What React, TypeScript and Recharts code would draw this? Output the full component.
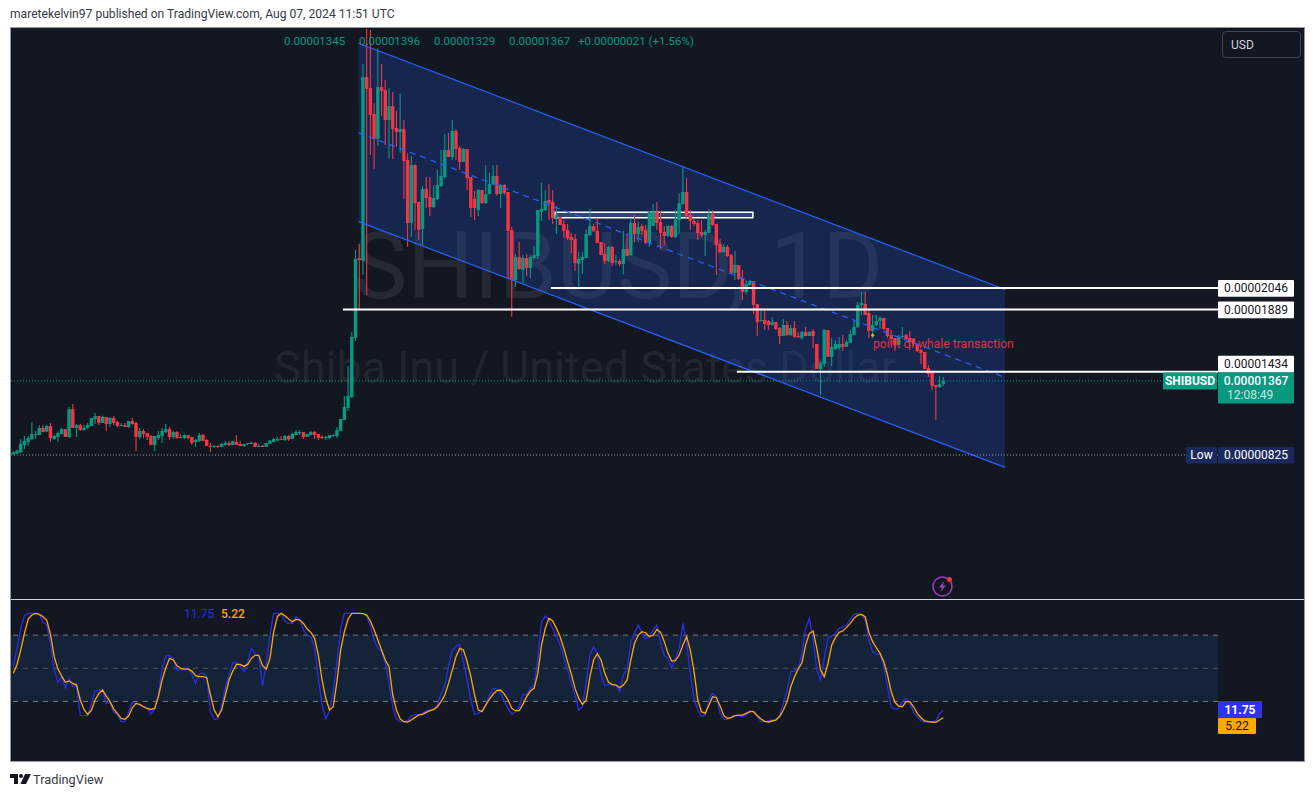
import React from 'react';
import {
  ComposedChart,
  Bar,
  Line,
  Area,
  XAxis,
  YAxis,
  ReferenceLine,
  ReferenceArea,
  ReferenceDot,
} from 'recharts';

// all prices are in units of 0.00000001 USD
const opens = [
  833, 835, 845, 898, 920, 940, 974, 971, 1023, 996,
  1037, 942, 957, 979, 1015, 957, 1161, 1023, 1044, 1008,
  1023, 1037, 1088, 1110, 1059, 1103, 1052, 1096, 1066, 1037,
  1044, 1030, 1074, 1059, 957, 1001, 986, 964, 898, 949,
  964, 993, 1015, 957, 993, 957, 949, 971, 957, 920,
  928, 971, 935, 891, 886, 891, 884, 898, 913, 898,
  920, 906, 891, 906, 908, 913, 886, 893, 884, 906,
  920, 930, 942, 935, 964, 942, 971, 988, 993, 957,
  971, 993, 979, 957, 952, 949, 964, 964, 1001, 1081,
  1169, 1249, 1681, 2265, 2245, 3588, 3508, 3318, 3135, 3515,
  3493, 3274, 3376, 3216, 3186, 3208, 2982, 2521, 2945, 2675,
  2477, 2770, 2711, 2638, 2697, 2792, 2857, 3055, 3004, 3194,
  3069, 2967, 3062, 2857, 2697, 2616, 2762, 2667, 2733, 2806,
  2865, 2733, 2799, 2748, 2470, 2104, 2273, 2178, 2265, 2192,
  2265, 2280, 2604, 2616, 2689, 2675, 2558, 2565, 2514, 2470,
  2419, 2404, 2221, 2251, 2265, 2433, 2499, 2463, 2382, 2295,
  2243, 2346, 2236, 2243, 2221, 2331, 2287, 2521, 2441, 2499,
  2470, 2375, 2499, 2602, 2528, 2455, 2426, 2499, 2419, 2543,
  2660, 2748, 2580, 2536, 2521, 2455, 2433, 2448, 2587, 2514,
  2368, 2309, 2346, 2287, 2156, 2214, 2112, 2017, 2068, 2097,
  1929, 1805, 1812, 1805, 1776, 1797, 1754, 1695, 1776, 1702,
  1754, 1695, 1680, 1724, 1695, 1732, 1637, 1454, 1490, 1739,
  1542, 1600, 1607, 1637, 1615, 1644, 1702, 1761, 1922, 1929,
  1863, 1732, 1776, 1805, 1827, 1754, 1702, 1680, 1629, 1688,
  1702, 1680, 1673, 1637, 1593, 1578, 1461, 1425, 1337, 1322,
  1345,
];

const highs = [
  852, 864, 940, 964, 964, 1066, 1001, 1042, 1044, 1044,
  1059, 971, 996, 1025, 1015, 1176, 1198, 1052, 1052, 1044,
  1059, 1096, 1132, 1110, 1113, 1103, 1103, 1110, 1074, 1059,
  1059, 1074, 1096, 1066, 1023, 1015, 986, 971, 964, 1001,
  1023, 1052, 1030, 1001, 1001, 976, 979, 971, 957, 942,
  986, 979, 942, 913, 898, 898, 913, 928, 928, 928,
  971, 928, 906, 913, 920, 920, 906, 898, 913, 935,
  949, 957, 964, 971, 971, 986, 1008, 1008, 993, 979,
  1001, 1001, 979, 971, 964, 971, 979, 1030, 1088, 1257,
  1476, 1724, 2324, 2368, 3683, 3940, 3932, 3396, 3798, 3683,
  3566, 3506, 3479, 3340, 3469, 3274, 3030, 3011, 2950, 2675,
  2792, 2857, 2857, 2799, 2909, 3055, 3172, 3179, 3274, 3208,
  3084, 3069, 3062, 2857, 2755, 2770, 2762, 2945, 2889, 2945,
  2945, 2806, 2806, 2748, 2492, 2295, 2382, 2287, 2295, 2287,
  2353, 2616, 2814, 2762, 2806, 2762, 2645, 2565, 2543, 2514,
  2446, 2441, 2309, 2309, 2470, 2624, 2514, 2558, 2382, 2375,
  2353, 2353, 2287, 2258, 2463, 2441, 2558, 2580, 2528, 2514,
  2506, 2609, 2660, 2675, 2602, 2499, 2506, 2506, 2616, 2738,
  2938, 2850, 2616, 2550, 2543, 2543, 2470, 2624, 2616, 2514,
  2404, 2368, 2360, 2295, 2317, 2214, 2178, 2104, 2104, 2097,
  1929, 1900, 1900, 1812, 1834, 1797, 1761, 1819, 1805, 1776,
  1805, 1724, 1732, 1761, 1732, 1746, 1637, 1512, 1746, 1739,
  1680, 1666, 1688, 1702, 1666, 1739, 1805, 1944, 2017, 2017,
  1885, 1849, 1849, 1841, 1827, 1754, 1739, 1680, 1702, 1761,
  1710, 1732, 1673, 1637, 1600, 1578, 1483, 1425, 1337, 1403,
  1396,
];

const lows = [
  825, 833, 840, 869, 893, 935, 942, 971, 993, 993,
  920, 935, 920, 976, 957, 949, 1023, 957, 1001, 1001,
  1015, 1037, 1052, 1044, 1059, 1001, 1030, 1044, 1030, 1037,
  1030, 1023, 1047, 854, 942, 949, 935, 898, 854, 935,
  913, 986, 935, 942, 942, 949, 942, 940, 898, 884,
  920, 925, 891, 847, 876, 876, 884, 898, 891, 898,
  898, 891, 884, 898, 906, 884, 884, 884, 884, 906,
  920, 928, 935, 928, 928, 942, 971, 971, 942, 957,
  971, 942, 935, 942, 935, 942, 957, 949, 1001, 1081,
  1147, 1242, 1659, 1885, 2141, 1995, 3018, 2916, 3084, 3303,
  3091, 2996, 2989, 3079, 3030, 2697, 2346, 2419, 2470, 2397,
  2360, 2631, 2572, 2631, 2689, 2784, 2843, 3004, 2982, 2982,
  2909, 2967, 2762, 2565, 2543, 2572, 2660, 2660, 2733, 2799,
  2719, 2631, 2726, 2112, 1836, 2053, 2178, 2083, 2134, 2117,
  2256, 2258, 2538, 2609, 2543, 2514, 2441, 2506, 2416, 2397,
  2302, 2170, 2051, 2148, 2265, 2426, 2455, 2375, 2287, 2221,
  2236, 2207, 2214, 2207, 2148, 2280, 2280, 2382, 2382, 2433,
  2368, 2346, 2499, 2470, 2331, 2360, 2419, 2412, 2412, 2441,
  2653, 2558, 2470, 2499, 2397, 2419, 2280, 2448, 2499, 2141,
  2302, 2302, 2273, 2148, 2104, 2104, 1958, 1995, 2061, 1856,
  1695, 1797, 1739, 1739, 1768, 1739, 1637, 1695, 1695, 1695,
  1680, 1680, 1666, 1695, 1695, 1607, 1454, 1264, 1468, 1542,
  1476, 1593, 1593, 1585, 1615, 1644, 1702, 1754, 1849, 1849,
  1680, 1680, 1768, 1746, 1739, 1680, 1629, 1585, 1629, 1673,
  1666, 1593, 1622, 1578, 1490, 1454, 1395, 1300, 1081, 1315,
  1329,
];

const closes = [
  845, 857, 906, 928, 949, 979, 979, 1023, 993, 1037,
  949, 964, 986, 1015, 957, 1161, 1023, 1044, 1008, 1023,
  1044, 1096, 1110, 1059, 1105, 1052, 1096, 1059, 1037, 1044,
  1030, 1074, 1052, 957, 1001, 979, 957, 898, 964, 971,
  1001, 1015, 957, 993, 949, 949, 971, 949, 913, 935,
  971, 928, 891, 886, 891, 886, 906, 913, 898, 928,
  898, 891, 906, 913, 913, 884, 891, 884, 913, 930,
  942, 942, 935, 964, 940, 979, 993, 993, 957, 979,
  993, 971, 949, 949, 957, 971, 971, 1008, 1088, 1176,
  1257, 1688, 2258, 2251, 3588, 3501, 3311, 3135, 3515, 3486,
  3274, 3376, 3208, 3186, 3208, 2974, 2521, 2945, 2667, 2470,
  2770, 2704, 2638, 2704, 2799, 2865, 3055, 3004, 3194, 3062,
  2967, 3062, 2850, 2631, 2631, 2762, 2667, 2733, 2806, 2865,
  2733, 2799, 2740, 2463, 2104, 2273, 2185, 2265, 2192, 2273,
  2287, 2616, 2624, 2682, 2665, 2558, 2580, 2506, 2463, 2409,
  2397, 2229, 2258, 2273, 2441, 2499, 2463, 2375, 2287, 2243,
  2346, 2229, 2243, 2221, 2331, 2280, 2521, 2441, 2492, 2463,
  2375, 2602, 2602, 2521, 2448, 2426, 2499, 2419, 2543, 2667,
  2748, 2572, 2536, 2514, 2448, 2433, 2455, 2587, 2507, 2360,
  2309, 2346, 2280, 2156, 2214, 2112, 2017, 2075, 2097, 1922,
  1797, 1812, 1783, 1776, 1797, 1746, 1695, 1776, 1702, 1754,
  1688, 1688, 1724, 1695, 1724, 1695, 1454, 1498, 1739, 1542,
  1615, 1637, 1637, 1615, 1651, 1710, 1761, 1922, 1936, 1849,
  1732, 1776, 1805, 1827, 1746, 1695, 1673, 1629, 1688, 1695,
  1673, 1651, 1637, 1585, 1571, 1454, 1417, 1330, 1322, 1344,
  1367,
];

const stochK = [
  51.4, 68, 86, 97.6, 99.7, 99.7, 99.7, 98.8, 91.6, 89.1,
  72.6, 48.4, 37.3, 42.4, 32.4, 40.9, 33.3, 36.3, 7.1, 7.1,
  7.1, 18.2, 29.7, 30.3, 30.9, 18.2, 19.2, 10.1, 8.3, 1.7,
  1.7, 10.7, 19.2, 18.2, 16.7, 15.2, 14.6, 8.6, 13.7, 25.8,
  49.9, 61.1, 61.4, 59, 48.4, 48.4, 49.3, 50.5, 43.9, 36.3,
  44.8, 46, 42.4, 10.7, 3.8, 4.1, 16.7, 33.3, 43.9, 55.4,
  55.1, 51.4, 47.5, 56, 68, 63.5, 60.5, 34.2, 54.4, 80.1,
  99.7, 99.7, 99.1, 92.8, 90.6, 90.6, 96.7, 94.6, 84.6, 80.1,
  78.6, 68, 40.9, 16.7, 4.1, 11.6, 28.8, 56, 86, 99.7,
  99.7, 99.7, 99.7, 99.7, 99.4, 97.3, 87.6, 75.6, 68, 65,
  54.4, 36.3, 15.2, 4.1, 1.7, 1.7, 2.3, 6.8, 8.3, 8.3,
  9.2, 11.6, 12.2, 12.2, 17.3, 27.3, 34.8, 51.4, 66.5, 70.1,
  71.6, 56, 39.4, 21.3, 8.3, 9.2, 12.2, 17.3, 25.8, 31.8,
  30.9, 27.9, 19.8, 13.7, 8.6, 10.7, 15.2, 26.4, 25.8, 32.4,
  34.2, 59, 92.2, 97.3, 93.7, 86.1, 78.6, 71, 59, 48.4,
  36.3, 25.8, 12.2, 15.2, 37.9, 62, 69.5, 63.5, 43.9, 34.2,
  35.4, 34.8, 34.8, 28.8, 43.9, 49.3, 74.1, 81.6, 89.1, 81.6,
  76.5, 79.5, 84.6, 89.1, 72.6, 61.4, 59, 50.5, 59, 68,
  90.6, 74, 44, 22.8, 12.2, 6.2, 7.7, 21.3, 27.3, 24.3,
  9.2, 3.8, 3.8, 6.2, 7.1, 7.1, 6.2, 7.7, 11.6, 10.7,
  6.2, 1.7, 1.7, 2.3, 3.2, 3.2, 7.7, 18.2, 30.3, 46.9,
  47.5, 49.9, 63.5, 86.1, 95.2, 75.6, 48.4, 39.4, 59, 77,
  79.5, 81.6, 86.1, 87.6, 89.1, 94.6, 98.8, 99.7, 98.8, 93.7,
  75.6, 65, 62.9, 62.6, 51.4, 33.3, 15.2, 12.8, 13.7, 19.8,
  22.8, 18.2, 10.1, 6.2, 2.6, 1.4, 1.4, 1.4, 2.3, 9.2,
  11.75,
];

const stochD = [
  45.4, 53.5, 66.5, 81.6, 94.6, 98.2, 99.7, 98.8, 96.7, 93.4,
  80.7, 60.5, 49.3, 43, 37.3, 38.5, 36.3, 34.8, 21.3, 12.8,
  8.3, 12.2, 21.3, 27.3, 30.3, 24.9, 19.8, 13.1, 8.9, 4.7,
  3.8, 6.8, 14.3, 18.2, 17.3, 15.2, 13.4, 12.8, 13.7, 24.3,
  39.4, 50.5, 59, 57.5, 52.3, 49.9, 49.3, 49.3, 47.5, 43.3,
  42.4, 42.4, 41.5, 25.8, 12.2, 6.2, 12.2, 25.8, 39.4, 47.5,
  53.5, 53.5, 51.7, 53.5, 59, 61.7, 61.7, 52.3, 49.3, 59,
  83.1, 96.7, 99.7, 97.6, 94.6, 92.2, 94.3, 93.7, 90.6, 85.5,
  82.5, 77.1, 62, 39.4, 22.8, 12.2, 15.2, 37.9, 66.5, 83.1,
  94.6, 99.7, 99.7, 99.7, 99.4, 98.2, 92.8, 84.6, 75.6, 66.5,
  57.5, 51.4, 25.8, 12.2, 4.1, 1.7, 1.4, 3.2, 5.6, 7.7,
  8.3, 10.1, 11.6, 12.8, 15.2, 19.8, 25.8, 36.3, 48.4, 60.5,
  68, 66.5, 56, 42.4, 25.8, 12.2, 10.7, 16.7, 22.2, 26.7,
  29.7, 30.3, 26.7, 21.3, 13.7, 11.6, 11.6, 17.6, 24.3, 29.4,
  31.8, 45.4, 71, 86.1, 95.2, 92.8, 86.1, 78.6, 68, 56,
  44.8, 31.8, 22.8, 17.3, 21.3, 42.4, 57.5, 63.2, 57.5, 45.4,
  37.3, 35.4, 34.8, 32.4, 34.8, 39.4, 57.5, 72.6, 80.1, 83.1,
  82.2, 78.6, 80.1, 85.2, 82.5, 74.1, 63.5, 56.6, 56.9, 62,
  71, 78.6, 66.5, 47, 21.3, 10.7, 9.2, 16.7, 24.3, 23.4,
  15.8, 7.1, 4.7, 5.3, 7.1, 7.7, 7.7, 9.2, 10.7, 10.7,
  7.1, 4.1, 2, 1.4, 2.3, 3.2, 6.2, 12.2, 19.8, 33.3,
  42.4, 49.3, 55, 71, 81.6, 83.7, 68, 48.4, 42.4, 54.4,
  71, 77.7, 82.5, 83.7, 87, 90.6, 95.2, 98.2, 98.8, 96.7,
  82.5, 74.1, 68.6, 63.5, 56, 43.9, 28.8, 19.2, 15.8, 15.2,
  19.8, 19.8, 15.2, 9.2, 5.3, 2.3, 1.7, 1.4, 1.1, 3.2,
  5.22,
];

const priceTicks = [2046, 1889, 1434, 1367, 825];
const stochTicks = [11.75, 5.22];
const stochLevels = [80, 50, 20];

// trend channel anchors: bar position, lower / middle / upper price
const channelBars = [92.8, 266.6];
const channelLower = [2531, 735];
const channelMiddle = [3181, 1392];
const channelUpper = [3835, 2035];

// horizontal levels drawn by the author: first bar, price
const levelBars = [144.5, 88.6, 194.5];
const levelPrices = [2046, 1889, 1434];

const zoneBars = [145.6, 198.8];
const zonePrices = [2560, 2599];

const ohlcLegend = ['0.00001345', '0.00001396', '0.00001329', '0.00001367'];

const candles = opens.map((open, i) => ({
  idx: i,
  open,
  close: closes[i],
  high: highs[i],
  low: lows[i],
  range: [lows[i], highs[i]],
}));

const stochRows = stochK.map((k, i) => ({ idx: i, k, d: stochD[i] }));

const channelRows = channelBars.map((idx, i) => ({
  idx,
  band: [channelLower[i], channelUpper[i]],
}));

const GREEN = '#089981';
const RED = '#f23645';
const BLUE = '#2962ff';
const DARK = '#131722';
const FONT = 'Roboto, sans-serif';
const X_DOMAIN: [number, number] = [-0.62, 323.84];
const LAST_BAR = X_DOMAIN[1];

const Candle = (props: any) => {
  const { x, y, width, height, payload } = props;
  const perPrice = height / (payload.high - payload.low || 1);
  const top = y + (payload.high - Math.max(payload.open, payload.close)) * perPrice;
  const bottom = y + (payload.high - Math.min(payload.open, payload.close)) * perPrice;
  const center = x + width / 2;
  const color = payload.close >= payload.open ? GREEN : RED;
  return (
    <g>
      <rect x={center - 0.55} y={y} width={1.1} height={height} fill={color} />
      <rect x={center - 1.7} y={top} width={3.4} height={Math.max(bottom - top, 1)} fill={color} />
    </g>
  );
};

const Badge = ({ x, y, w, h, fill, color, text, bold }: any) => (
  <g>
    <rect x={x} y={y} width={w} height={h} rx={1} fill={fill} />
    <text
      x={x + w / 2}
      y={y + h / 2 + 4}
      textAnchor="middle"
      fontSize={12}
      fontFamily={FONT}
      fontWeight={bold ? 700 : 400}
      fill={color}
    >
      {text}
    </text>
  </g>
);

const PriceTick = (props: any) => {
  const { x, y, payload } = props;
  const label = '0.0000' + String(payload.value).padStart(4, '0');
  if (payload.value === 1367) {
    return (
      <g>
        <Badge x={x - 55} y={y - 8.3} w={54} h={17} fill={GREEN} color="#fff" text="SHIBUSD" bold />
        <rect x={x} y={y - 8.3} width={76} height={31} rx={1} fill={GREEN} />
        <text x={x + 38} y={y + 4} textAnchor="middle" fontSize={12} fontFamily={FONT} fontWeight={500} fill="#fff">{label}</text>
        <text x={x + 9} y={y + 18} fontSize={12} fontFamily={FONT} fill="#c5e8e0">12:08:49</text>
      </g>
    );
  }
  if (payload.value === 825) {
    return (
      <g>
        <Badge x={x - 32} y={y - 8} w={31} h={16.5} fill="#1a2a5e" color="#fff" text="Low" />
        <Badge x={x} y={y - 8} w={76} h={16.5} fill="#1a2a5e" color="#fff" text={label} />
      </g>
    );
  }
  const top = payload.value === 1434 ? y - 16 : y - 8;
  return <Badge x={x} y={top} w={76} h={16.7} fill="#ffffff" color="#131722" text={label} />;
};

const StochTick = (props: any) => {
  const { x, y, payload } = props;
  if (payload.value === 11.75) {
    return <Badge x={x} y={y - 9.5} w={44} h={17} fill="#3030ff" color="#fff" text="11.75" bold />;
  }
  return <Badge x={x} y={y + 0.3} w={38} h={16} fill="#ffa800" color="#131722" text="5.22" />;
};

export default function App() {
  return (
    <div style={{ position: 'absolute', left: 0, top: 0, width: 1314, height: 797, background: '#fff', overflow: 'hidden', fontFamily: FONT }}>
      <div style={{ position: 'absolute', left: 10, top: 7, fontSize: 12.1, color: '#363a45', whiteSpace: 'nowrap' }}>
        maretekelvin97 published on TradingView.com, Aug 07, 2024 11:51 UTC
      </div>

      {/* frame of the two panes */}
      <div style={{ position: 'absolute', left: 10, top: 27, width: 1293, height: 733, background: DARK, border: '1px solid #9598a1' }} />

      {/* watermark sits under the chart */}
      <div style={{ position: 'absolute', left: 352, top: 219, fontSize: 93, lineHeight: '96px', color: 'rgba(255,255,255,0.08)', whiteSpace: 'nowrap' }}>
        SHIBUSD, 1D
      </div>
      <div style={{ position: 'absolute', left: 274, top: 343, fontSize: 45, lineHeight: '50px', color: 'rgba(255,255,255,0.08)', whiteSpace: 'nowrap' }}>
        Shiba Inu / United States Dollar
      </div>

      <div style={{ position: 'absolute', left: 11, top: 28 }}>
        <ComposedChart width={1293} height={571} data={candles} margin={{ top: 0, right: 0, bottom: 0, left: 0 }}>
          <XAxis dataKey="idx" type="number" domain={X_DOMAIN} hide />
          <YAxis
            orientation="right"
            width={86}
            domain={[-227.4, 3946.6]}
            ticks={priceTicks}
            interval={0}
            axisLine={false}
            tickLine={false}
            tickSize={0}
            tickMargin={0}
            tick={<PriceTick />}
          />
          <Area
            data={channelRows}
            dataKey="band"
            type="linear"
            stroke="none"
            fill={BLUE}
            fillOpacity={0.2}
            dot={false}
            activeDot={false}
            isAnimationActive={false}
          />
          <Bar dataKey="range" barSize={3} shape={<Candle />} isAnimationActive={false} />
          <ReferenceLine
            segment={[{ x: channelBars[0], y: channelUpper[0] }, { x: channelBars[1], y: channelUpper[1] }]}
            stroke={BLUE}
            strokeWidth={1.2}
          />
          <ReferenceLine
            segment={[{ x: channelBars[0], y: channelLower[0] }, { x: channelBars[1], y: channelLower[1] }]}
            stroke={BLUE}
            strokeWidth={1.2}
          />
          <ReferenceLine
            segment={[{ x: channelBars[0], y: channelMiddle[0] }, { x: channelBars[1], y: channelMiddle[1] }]}
            stroke={BLUE}
            strokeWidth={1.2}
            strokeDasharray="6 5"
          />
          <ReferenceLine y={1367} stroke={GREEN} strokeWidth={1} strokeDasharray="1 2" />
          <ReferenceLine y={825} stroke="#9598a1" strokeWidth={1} strokeDasharray="1 2" />
          <ReferenceArea
            x1={zoneBars[0]}
            x2={zoneBars[1]}
            y1={zonePrices[0]}
            y2={zonePrices[1]}
            stroke="#ffffff"
            strokeWidth={1.5}
            fill="#5d86b8"
            fillOpacity={0.35}
          />
          {levelBars.map((bar, i) => (
            <ReferenceLine
              key={bar}
              segment={[{ x: bar, y: levelPrices[i] }, { x: LAST_BAR, y: levelPrices[i] }]}
              stroke="#ffffff"
              strokeWidth={2}
            />
          ))}
          <ReferenceDot x={231} y={1700} r={1.5} fill="#f0b90b" stroke="none" />
        </ComposedChart>
      </div>

      <div style={{ position: 'absolute', left: 11, top: 600 }}>
        <ComposedChart width={1293} height={161} data={stochRows} margin={{ top: 0, right: 0, bottom: 0, left: 0 }}>
          <XAxis dataKey="idx" type="number" domain={X_DOMAIN} hide />
          <YAxis
            orientation="right"
            width={86}
            domain={[-33.9, 111.8]}
            ticks={stochTicks}
            interval={0}
            axisLine={false}
            tickLine={false}
            tickSize={0}
            tickMargin={0}
            tick={<StochTick />}
          />
          <ReferenceArea y1={stochLevels[2]} y2={stochLevels[0]} fill="#2196f3" fillOpacity={0.1} stroke="none" />
          <ReferenceLine y={stochLevels[0]} stroke="#787b86" strokeDasharray="5 5" />
          <ReferenceLine y={stochLevels[1]} stroke="#787b86" strokeOpacity={0.6} strokeDasharray="5 5" />
          <ReferenceLine y={stochLevels[2]} stroke="#787b86" strokeDasharray="5 5" />
          <Line dataKey="k" type="linear" stroke="#2a2ee6" strokeWidth={1.3} dot={false} activeDot={false} isAnimationActive={false} />
          <Line dataKey="d" type="linear" stroke="#ffa800" strokeWidth={1.3} dot={false} activeDot={false} isAnimationActive={false} />
        </ComposedChart>
      </div>

      {/* pane separator */}
      <div style={{ position: 'absolute', left: 11, top: 599, width: 1293, height: 1, background: '#d1d4dc' }} />

      {/* OHLC legend */}
      {ohlcLegend.map((v, i) => (
        <div key={v} style={{ position: 'absolute', left: 284 + i * 75, top: 34, fontSize: 11.5, color: GREEN, whiteSpace: 'nowrap' }}>
          {v}
        </div>
      ))}
      <div style={{ position: 'absolute', left: 578, top: 34, fontSize: 11.5, color: GREEN, whiteSpace: 'nowrap' }}>
        +0.00000021 (+1.56%)
      </div>

      <div style={{ position: 'absolute', left: 1222, top: 31, width: 77, height: 25, border: '1px solid #434651', borderRadius: 4, color: '#d1d4dc', fontSize: 12, lineHeight: '27px', textIndent: 8 }}>
        USD
      </div>

      <div style={{ position: 'absolute', left: 873, top: 337, fontSize: 12.2, color: '#f23645', opacity: 0.9, whiteSpace: 'nowrap' }}>
        point of whale transaction
      </div>

      <div style={{ position: 'absolute', left: 184, top: 607, fontSize: 12, color: '#2a2ee6', whiteSpace: 'nowrap' }}>11.75</div>
      <div style={{ position: 'absolute', left: 221, top: 607, fontSize: 12, fontWeight: 500, color: '#ffa800', whiteSpace: 'nowrap' }}>5.22</div>

      {/* flash icon */}
      <svg style={{ position: 'absolute', left: 930, top: 574 }} width={24} height={24}>
        <circle cx={12.5} cy={12.5} r={9.5} fill="none" stroke="#9c3fb5" strokeWidth={1.5} />
        <path d="M14 7 L9 13.5 H12 L10.5 18 L16 11.5 H13 Z" fill="#9c3fb5" />
        <circle cx={19.5} cy={5.5} r={2.5} fill="#f23645" />
      </svg>

      {/* TradingView mark */}
      <svg style={{ position: 'absolute', left: 10, top: 773 }} width={21} height={12}>
        <path d="M0 1 H8 V11 H4 V5 H0 Z" fill="#131722" />
        <circle cx={11} cy={3} r={2} fill="#131722" />
        <path d="M15 1 H21 L16 11 H10.5 Z" fill="#131722" />
      </svg>
      <div style={{ position: 'absolute', left: 33, top: 772, fontSize: 12.8, color: '#363a45', whiteSpace: 'nowrap' }}>TradingView</div>
    </div>
  );
}
